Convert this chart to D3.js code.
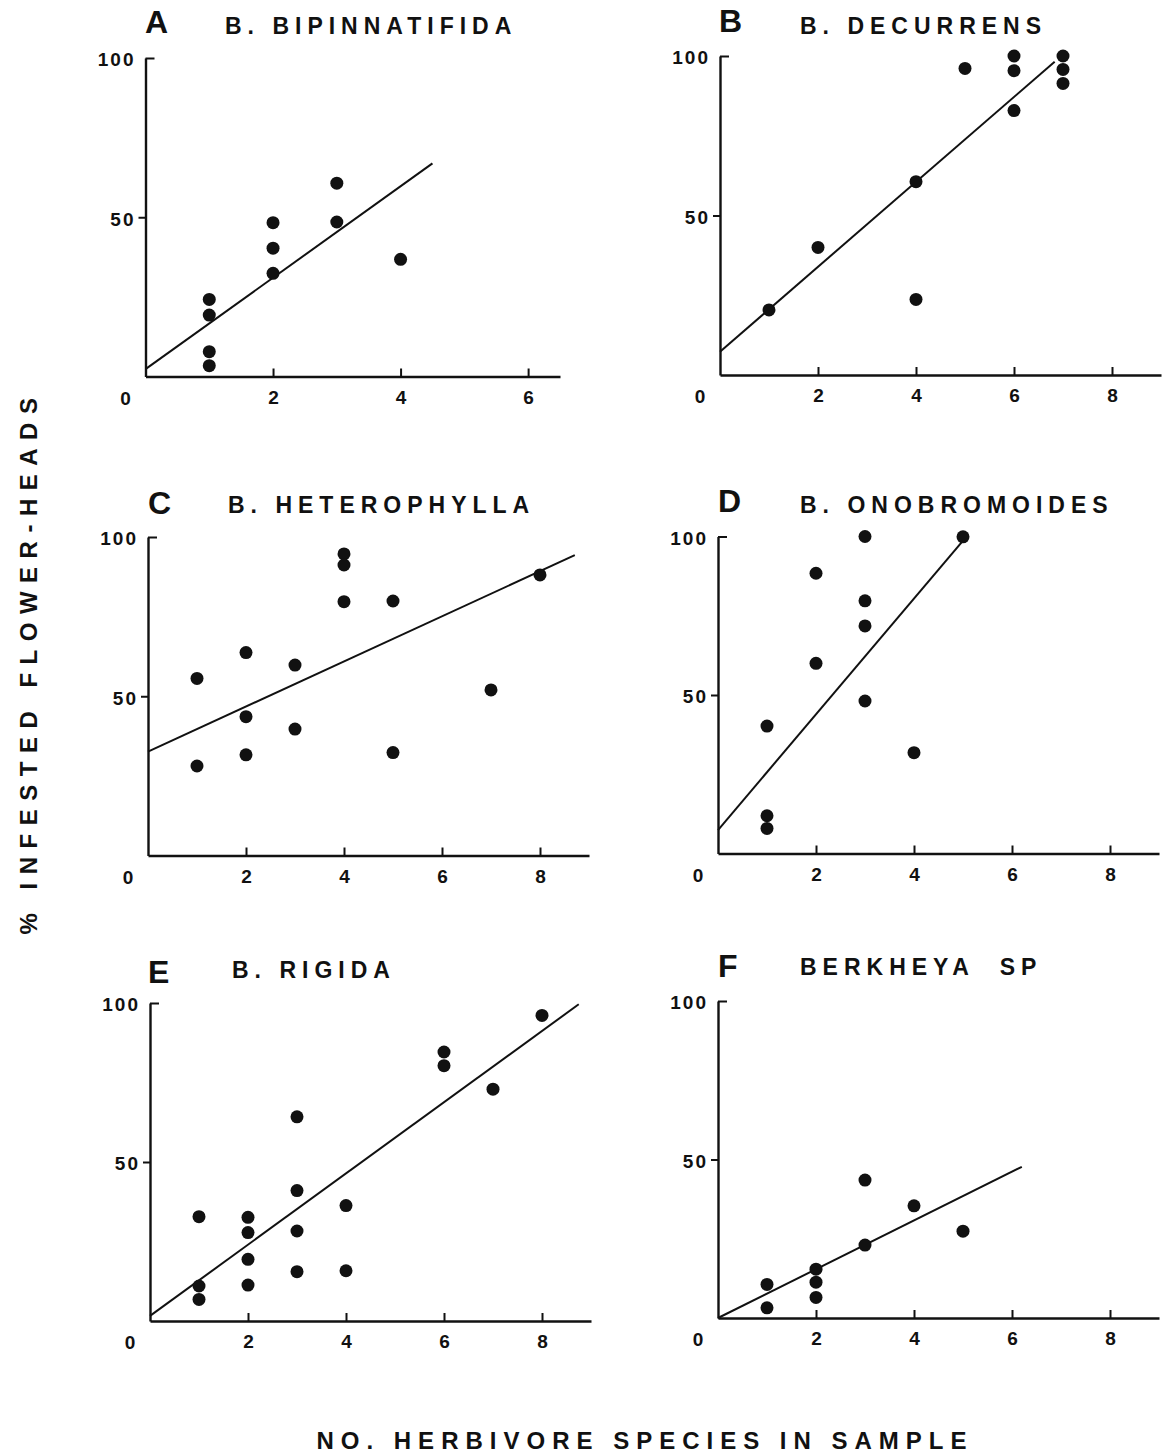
<!DOCTYPE html>
<html>
<head>
<meta charset="utf-8">
<script src="https://cdn.jsdelivr.net/npm/d3@7"></script>
<style>
  html, body { margin: 0; padding: 0; background: #fff; }
  svg { display: block; }
  text { font-family: "Liberation Sans", Arial, Helvetica, sans-serif; font-weight: bold; fill: #111; }
</style>
</head>
<body>
<svg id="chart" width="1164" height="1454"></svg>
<script>
// ---------- DATA ----------
const panelLetters = ["A", "B", "C", "D", "E", "F"];
const panelTitles = ["B. BIPINNATIFIDA", "B. DECURRENS", "B. HETEROPHYLLA", "B. ONOBROMOIDES", "B. RIGIDA", "BERKHEYA\u00A0\u00A0SP"];
const yTickValues = [50, 100];
const yTickLabels = ["50", "100"];
const xTickValues = [2, 4, 6, 8];
const xTickLabels = ["2", "4", "6", "8"];
const originLabel = "0";
const yAxisTitle = "% INFESTED FLOWER-HEADS";
const xAxisTitle = "NO. HERBIVORE SPECIES IN SAMPLE";

// [no. herbivore species, % infested flower-heads]
const pointsA = [[1,24.2],[1,19.3],[1,7.8],[1,3.4],[2,48.3],[2,40.3],[2,32.4],[3,60.7],[3,48.5],[4,36.8]];
const pointsB = [[1,20.4],[2,40],[4,60.6],[4,23.7],[5,96.1],[6,100],[6,95.4],[6,82.9],[7,100],[7,95.8],[7,91.4]];
const pointsC = [[1,55.6],[1,28.1],[2,63.7],[2,43.6],[2,31.6],[3,59.8],[3,39.7],[4,94.7],[4,91.2],[4,79.7],[5,79.9],[5,32.3],[7,52],[8,88.1]];
const pointsD = [[1,40.2],[1,11.9],[1,7.9],[2,88.4],[2,60],[3,100],[3,79.7],[3,71.8],[3,48.1],[4,31.8],[5,99.9]];
const pointsE = [[1,32.8],[1,11],[1,6.8],[2,32.6],[2,27.8],[2,19.4],[2,11.3],[3,64.2],[3,41],[3,28.3],[3,15.5],[4,36.3],[4,15.8],[6,84.6],[6,80.3],[7,72.9],[8,96.1]];
const pointsF = [[1,10.6],[1,3.2],[2,15.4],[2,11.3],[2,6.5],[3,43.5],[3,23],[4,35.4],[5,27.4]];

// regression lines: [x, y] end points
const fitA = [[0,2.3],[4.5,66.9]];
const fitB = [[0,7.3],[6.83,98.2]];
const fitC = [[0,32.6],[8.71,94.3]];
const fitD = [[0,7.4],[5.04,99.4]];
const fitE = [[0,1.6],[8.75,99.6]];
const fitF = [[0,0],[6.2,47.7]];

const xMaxes = [6.5, 9, 9, 9, 9, 9];

// ---------- LAYOUT ----------
const layout = [
  {x0:145.5, x1:560,  y0:376.5, y100:58,    letterX:145, letterY:33,  titleX:225, titleY:34},
  {x0:720,   x1:1161, y0:375,   y100:56,    letterX:719, letterY:32,  titleX:800, titleY:34},
  {x0:148,   x1:589,  y0:855.5, y100:537,   letterX:148, letterY:514, titleX:228, titleY:513},
  {x0:718,   x1:1159, y0:853.5, y100:536.5, letterX:718, letterY:512, titleX:800, titleY:513},
  {x0:150,   x1:591,  y0:1321,  y100:1003,  letterX:148, letterY:983, titleX:232, titleY:978},
  {x0:718,   x1:1159, y0:1318,  y100:1001,  letterX:718, letterY:977, titleX:800, titleY:975}
];

const allPoints = [pointsA, pointsB, pointsC, pointsD, pointsE, pointsF];
const allFits = [fitA, fitB, fitC, fitD, fitE, fitF];

const svg = d3.select("#chart");

layout.forEach((L, i) => {
  const x = d3.scaleLinear().domain([0, xMaxes[i]]).range([L.x0, L.x1]);
  const y = d3.scaleLinear().domain([0, 100]).range([L.y0, L.y100]);
  const g = svg.append("g");

  // panel letter and title
  g.append("text").attr("x", L.letterX).attr("y", L.letterY)
    .attr("font-size", 32).text(panelLetters[i]);
  g.append("text").attr("x", L.titleX).attr("y", L.titleY)
    .attr("font-size", 23).attr("letter-spacing", 6).text(panelTitles[i]);

  // x axis
  const xt = xTickValues.filter(v => v <= xMaxes[i]);
  const xAxis = d3.axisBottom(x).tickValues(xt)
    .tickFormat(v => xTickLabels[xTickValues.indexOf(v)])
    .tickSize(-8).tickSizeOuter(0).tickPadding(14);
  const gx = g.append("g").attr("transform", `translate(0,${L.y0})`).call(xAxis);
  gx.select(".domain").attr("stroke", "#111").attr("stroke-width", 2.4);
  gx.selectAll(".tick line").attr("stroke", "#111").attr("stroke-width", 2);
  gx.selectAll(".tick text").attr("font-size", 19).attr("fill", "#111")
    .attr("font-family", "Liberation Sans, Arial, sans-serif").attr("font-weight", "bold");

  // y axis
  const yAxis = d3.axisLeft(y).tickValues(yTickValues)
    .tickFormat(v => yTickLabels[yTickValues.indexOf(v)])
    .tickSize(7).tickSizeOuter(0).tickPadding(8);
  const gy = g.append("g").attr("transform", `translate(${L.x0},0)`).call(yAxis);
  gy.select(".domain").attr("stroke", "#111").attr("stroke-width", 2.4);
  gy.selectAll(".tick line").attr("stroke", "#111").attr("stroke-width", 2)
    .attr("x2", d => d === 100 ? 9 : -7);
  gy.selectAll(".tick text").attr("font-size", 19).attr("fill", "#111")
    .attr("font-family", "Liberation Sans, Arial, sans-serif").attr("font-weight", "bold")
    .attr("letter-spacing", 2).attr("x", -10).attr("dy", "0.42em");

  // origin label
  g.append("text").attr("x", L.x0 - 20).attr("y", L.y0 + 28)
    .attr("text-anchor", "middle").attr("font-size", 19).text(originLabel);

  // regression line
  g.append("path").datum(allFits[i])
    .attr("d", d3.line().x(d => x(d[0])).y(d => y(d[1])))
    .attr("fill", "none").attr("stroke", "#111").attr("stroke-width", 2);

  // points
  g.selectAll("circle.pt").data(allPoints[i]).join("circle")
    .attr("class", "pt")
    .attr("cx", d => x(d[0])).attr("cy", d => y(d[1]))
    .attr("r", 6.5).attr("fill", "#111");
});

// shared axis titles
svg.append("text")
  .attr("transform", "translate(37,662) rotate(-90)")
  .attr("text-anchor", "middle").attr("font-size", 24).attr("letter-spacing", 8.5)
  .text(yAxisTitle);

svg.append("text")
  .attr("x", 645).attr("y", 1449)
  .attr("text-anchor", "middle").attr("font-size", 24).attr("letter-spacing", 7)
  .text(xAxisTitle);
</script>
</body>
</html>
